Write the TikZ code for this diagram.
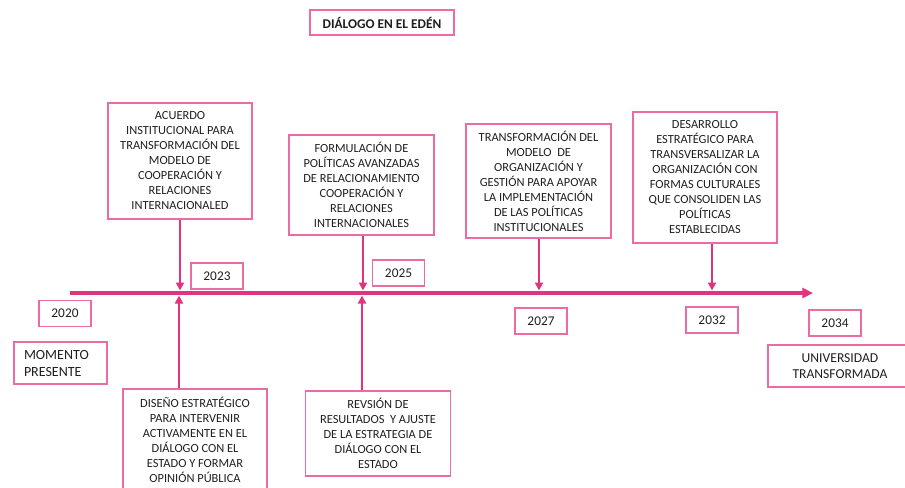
\documentclass[tikz,border=0pt]{standalone}
\usepackage{fontspec}
\setmainfont{Carlito}
\usetikzlibrary{arrows.meta}
\definecolor{rosa}{RGB}{235,108,165}
\definecolor{fucsia}{RGB}{224,52,126}
\begin{document}
\begin{tikzpicture}[x=0.75pt,y=-0.75pt]
\tikzset{box/.style = {draw=rosa, line width=1pt, align=center, inner sep=0pt, text=black!88, font=\fontsize{9.3}{11.25}\selectfont}}
\tikzset{year/.style = {box, minimum width=39pt, minimum height=19.5pt, font=\fontsize{10}{12}\selectfont}}
\tikzset{sz/.style 2 args = {minimum width=#1*0.75pt, minimum height=#2*0.75pt}}
\tikzset{edge/.style = {draw=fucsia, line width=2.2pt, -{Triangle[width=6pt,length=6pt]}}}
\tikzset{axis/.style = {draw=fucsia, line width=2.6pt, -{Triangle[width=7.5pt,length=8pt]}}}
\useasboundingbox (0,0) rectangle (905,487);
% titulo
\node[box, sz={144}{25}, font=\fontsize{10}{12}\selectfont\bfseries] (titulo) at (382,22.5) {DIÁLOGO EN EL EDÉN};
% linea de tiempo
\coordinate (inicio) at (70,293);
\coordinate (fin) at (813,293);
\draw[axis] (inicio) -- (fin);
% cajas de arriba
\node[box, sz={144}{116}] (acuerdo) at (180,161) {ACUERDO\\INSTITUCIONAL PARA\\TRANSFORMACIÓN DEL\\MODELO DE\\COOPERACIÓN Y\\RELACIONES\\INTERNACIONALED};
\node[box, sz={145}{100}] (formulacion) at (361.5,185) {FORMULACIÓN DE\\POLÍTICAS AVANZADAS\\DE RELACIONAMIENTO\\COOPERACIÓN Y\\RELACIONES\\INTERNACIONALES};
\node[box, sz={145}{114}] (transformacion) at (538.5,181) {TRANSFORMACIÓN DEL\\MODELO \ DE\\ORGANIZACIÓN Y\\GESTIÓN PARA APOYAR\\LA IMPLEMENTACIÓN\\DE LAS POLÍTICAS\\INSTITUCIONALES};
\node[box, sz={144}{131}] (desarrollo) at (705,177.5) {DESARROLLO\\ESTRATÉGICO PARA\\TRANSVERSALIZAR LA\\ORGANIZACIÓN CON\\FORMAS CULTURALES\\QUE CONSOLIDEN LAS\\POLÍTICAS\\ESTABLECIDAS};
% cajas de abajo
\node[box, sz={144}{101}] (diseno) at (195,439.5) {DISEÑO ESTRATÉGICO\\PARA INTERVENIR\\ACTIVAMENTE EN EL\\DIÁLOGO CON EL\\ESTADO Y FORMAR\\OPINIÓN PÚBLICA};
\node[box, sz={145}{85}] (revision) at (378,433.5) {REVSIÓN DE\\RESULTADOS \ Y AJUSTE\\DE LA ESTRATEGIA DE\\DIÁLOGO CON EL\\ESTADO};
% años
\node[year] (y2020) at (65,313.5) {2020};
\node[year] (y2023) at (217,276) {2023};
\node[year] (y2025) at (398.5,273) {2025};
\node[year] (y2027) at (541,321) {2027};
\node[year] (y2032) at (712,320) {2032};
\node[year] (y2034) at (835,323) {2034};
% extremos
\node[box, sz={93}{42}, align=left, text width=73*0.75pt, inner xsep=7.5pt, font=\fontsize{10.5}{12.75}\selectfont] (presente) at (60.5,363) {MOMENTO\\PRESENTE};
\node[box, sz={144}{42}, font=\fontsize{10.2}{12}\selectfont] (universidad) at (840,366) {UNIVERSIDAD\\TRANSFORMADA};
% flechas
\coordinate (t1) at (180,290.5);
\coordinate (t2) at (363,290.5);
\coordinate (t3) at (539,290.5);
\coordinate (t4) at (712,290.5);
\coordinate (b1) at (179,295.5);
\coordinate (b2) at (362,295.5);
\draw[edge] (acuerdo.south -| t1) -- (t1);
\draw[edge] (formulacion.south -| t2) -- (t2);
\draw[edge] (transformacion.south -| t3) -- (t3);
\draw[edge] (desarrollo.south -| t4) -- (t4);
\draw[edge] (diseno.north -| b1) -- (b1);
\draw[edge] (revision.north -| b2) -- (b2);
\end{tikzpicture}
\end{document}
